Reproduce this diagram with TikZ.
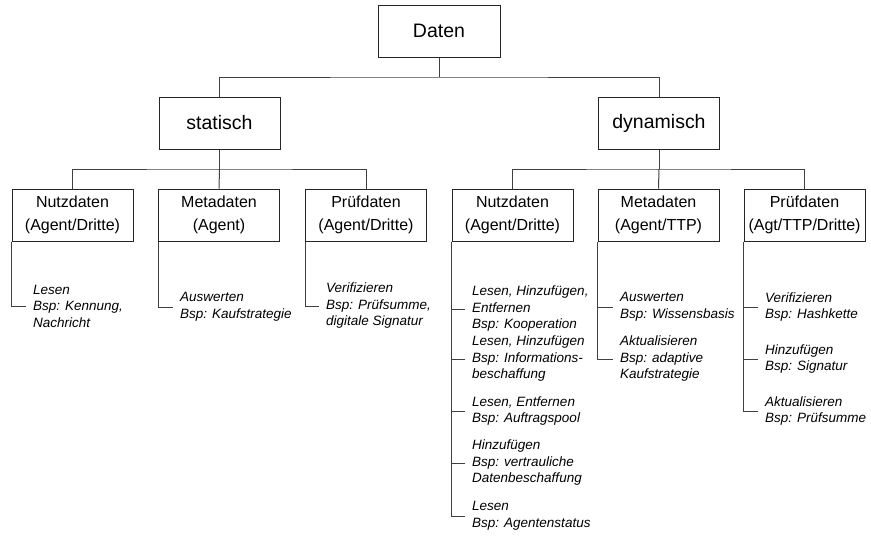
\documentclass[tikz,border=0pt]{standalone}
\usepackage{fontspec}
\setmainfont{Liberation Sans}
\begin{document}
\begin{tikzpicture}[x=1pt,y=-1pt,
  box/.style={draw=black!85, line width=1pt, minimum width=121pt, minimum height=52pt, inner sep=0pt, align=center, font=\fontsize{16}{22.5}\selectfont},
  bigbox/.style={box, font=\fontsize{19.5}{23}\selectfont},
  note/.style={anchor=west, inner sep=0pt, align=left, font=\fontsize{13.5}{16.5}\selectfont\itshape},
  conn/.style={draw=black!75, line width=1pt}]
\useasboundingbox (0,0) rectangle (871,536);
% top levels
\node[bigbox, minimum width=122pt] (daten) at (439,31) {Daten};
\node[bigbox] (stat) at (219.5,123) {statisch};
\node[bigbox] (dyn) at (659,123) {dynamisch};
\coordinate (j1) at (439,77);
\coordinate (j2) at (219.5,169);
\coordinate (j3) at (659,169);
% level 3
\node[box] (sn) at (72.5,215) {Nutzdaten\\(Agent/Dritte)};
\node[box] (sm) at (219,215) {Metadaten\\(Agent)};
\node[box] (sp) at (366,215) {Prüfdaten\\(Agent/Dritte)};
\node[box] (dn) at (512.5,215) {Nutzdaten\\(Agent/Dritte)};
\node[box] (dm) at (658.5,215) {Metadaten\\(Agent/TTP)};
\node[box] (dp) at (804.5,215) {Prüfdaten\\(Agt/TTP/Dritte)};
% tree connectors
\draw[conn] (daten.south) -- (j1);
\draw[conn] (stat.north) |- (j1) -| (dyn.north);
\draw[conn] (stat.south) -- (j2);
\draw[conn] (sn.north) |- (j2) -| (sp.north);
\draw[conn] (j2) -- (sm.north);
\draw[conn] (dyn.south) -- (j3);
\draw[conn] (dn.north) |- (j3) -| (dp.north);
\draw[conn] (j3) -- (dm.north);
% notes static
\node[note] (sn1) at (33,306) {Lesen\\Bsp: Kennung,\\Nachricht};
\node[note] (sm1) at (180,307) {Auswerten\\Bsp: Kaufstrategie};
\node[note] (sp1) at (326,306) {Verifizieren\\Bsp: Prüfsumme,\\digitale Signatur};
\draw[conn] (sn.south west) |- ([xshift=-7pt]sn1.west);
\draw[conn] (sm.south west) |- ([xshift=-7pt]sm1.west);
\draw[conn] (sp.south west) |- ([xshift=-7pt]sp1.west);
% notes dynamic Nutzdaten
\node[note] (dn1) at (472,309) {Lesen, Hinzufügen,\\Entfernen\\Bsp: Kooperation};
\node[note] (dn2) at (472,359) {Lesen, Hinzufügen\\Bsp: Informations-\\beschaffung};
\node[note] (dn3) at (472,411) {Lesen, Entfernen\\Bsp: Auftragspool};
\node[note] (dn4) at (472,463) {Hinzufügen\\Bsp: vertrauliche\\Datenbeschaffung};
\node[note] (dn5) at (472,516) {Lesen\\Bsp: Agentenstatus};
\draw[conn] (dn.south west) |- ([xshift=-7pt]dn5.west);
\foreach \n in {dn1,dn2,dn3,dn4}
  \draw[conn] (dn.south west |- \n.west) -- ([xshift=-7pt]\n.west);
% notes dynamic Metadaten
\node[note] (dm1) at (620,307) {Auswerten\\Bsp: Wissensbasis};
\node[note] (dm2) at (620,359) {Aktualisieren\\Bsp: adaptive\\Kaufstrategie};
\draw[conn] (dm.south west) |- ([xshift=-7pt]dm2.west);
\draw[conn] (dm.south west |- dm1.west) -- ([xshift=-7pt]dm1.west);
% notes dynamic Pruefdaten
\node[note] (dp1) at (765,307) {Verifizieren\\Bsp: Hashkette};
\node[note] (dp2) at (765,359) {Hinzufügen\\Bsp: Signatur};
\node[note] (dp3) at (765,411) {Aktualisieren\\Bsp: Prüfsumme};
\draw[conn] (dp.south west) |- ([xshift=-7pt]dp3.west);
\draw[conn] (dp.south west |- dp1.west) -- ([xshift=-7pt]dp1.west);
\draw[conn] (dp.south west |- dp2.west) -- ([xshift=-7pt]dp2.west);
\end{tikzpicture}
\end{document}
